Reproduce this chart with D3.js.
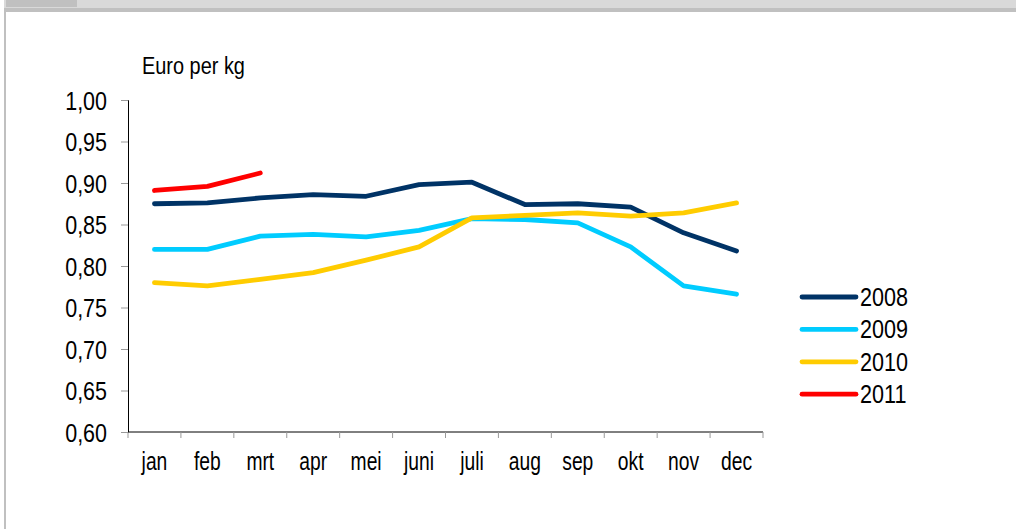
<!DOCTYPE html>
<html>
<head>
<meta charset="utf-8">
<script src="https://cdn.jsdelivr.net/npm/d3@7"></script>
<style>
  body { margin: 0; background: #fff; }
  text { font-family: "Liberation Sans", Arial, sans-serif; fill: #000; }
</style>
</head>
<body>
<script>
// chart data
var months = ["jan", "feb", "mrt", "apr", "mei", "juni", "juli", "aug", "sep", "okt", "nov", "dec"];
var years = ["2008", "2009", "2010", "2011"];
var colors = ["#003366", "#00ccff", "#ffcc00", "#ff0000"];
var values2008 = [0.875, 0.876, 0.882, 0.886, 0.884, 0.898, 0.901, 0.874, 0.875, 0.871, 0.840, 0.818];
var values2009 = [0.820, 0.820, 0.836, 0.838, 0.835, 0.843, 0.857, 0.856, 0.852, 0.823, 0.776, 0.766];
var values2010 = [0.780, 0.776, 0.784, 0.792, 0.807, 0.823, 0.858, 0.861, 0.864, 0.860, 0.864, 0.876];
var values2011 = [0.891, 0.896, 0.912];
var yTicks = [0.60, 0.65, 0.70, 0.75, 0.80, 0.85, 0.90, 0.95, 1.00];

var series = [values2008, values2009, values2010, values2011];

var width = 1016, height = 529;
var margin = {top: 100, left: 128, right: 253, bottom: 97};

var svg = d3.select("body").append("svg")
    .attr("width", width)
    .attr("height", height);

// narrow text: the original font is condensed, so squeeze horizontally
function narrow(sel, sx) {
    sel.each(function() {
        var t = d3.select(this);
        var tx = +t.attr("x") || 0, ty = +t.attr("y") || 0;
        t.attr("x", null).attr("y", null)
         .attr("transform", "translate(" + tx + "," + ty + ") scale(" + sx + ",1)");
    });
}

// window frame bits
svg.append("rect").attr("x", 4).attr("y", 0).attr("width", 1012).attr("height", 8).attr("fill", "#d9d9d9");
svg.append("rect").attr("x", 6).attr("y", 0).attr("width", 71).attr("height", 7).attr("fill", "#c0c0c0");
svg.append("rect").attr("x", 4).attr("y", 8).attr("width", 1012).attr("height", 4).attr("fill", "#c0c0c0");
svg.append("rect").attr("x", 4).attr("y", 8).attr("width", 2).attr("height", 521).attr("fill", "#c0c0c0");

var x = d3.scaleBand()
    .domain(months)
    .range([margin.left, width - margin.right])
    .padding(0);

var y = d3.scaleLinear()
    .domain([0.60, 1.00])
    .range([height - margin.bottom, margin.top]);

// y axis
var yAxis = d3.axisLeft(y)
    .tickValues(yTicks)
    .tickSize(7)
    .tickPadding(14)
    .tickFormat(function(d) { return d3.format(".2f")(d).replace(".", ","); });

var gy = svg.append("g")
    .attr("transform", "translate(" + margin.left + ",0)")
    .call(yAxis);
gy.select(".domain").attr("stroke", "#000");
gy.selectAll(".tick line").attr("stroke", "#999");
gy.selectAll(".tick text")
    .style("font-size", "25px")
    .attr("dy", "0.36em")
    .call(narrow, 0.86);

// x axis
var x0 = y(0.60);
svg.append("line")
    .attr("x1", margin.left).attr("x2", width - margin.right)
    .attr("y1", x0).attr("y2", x0)
    .attr("stroke", "#000");

var bounds = d3.range(months.length + 1);
svg.selectAll(".xtick")
    .data(bounds)
    .enter().append("line")
    .attr("class", "xtick")
    .attr("x1", function(i) { return margin.left + i * x.bandwidth(); })
    .attr("x2", function(i) { return margin.left + i * x.bandwidth(); })
    .attr("y1", x0).attr("y2", x0 + 6)
    .attr("stroke", "#999");

svg.selectAll(".xlabel")
    .data(months)
    .enter().append("text")
    .attr("class", "xlabel")
    .attr("x", function(d) { return x(d) + x.bandwidth() / 2; })
    .attr("y", 470)
    .attr("text-anchor", "middle")
    .style("font-size", "25px")
    .text(function(d) { return d; })
    .call(narrow, 0.77);

svg.append("text")
    .attr("x", 142)
    .attr("y", 74)
    .style("font-size", "24px")
    .text("Euro per kg")
    .call(narrow, 0.83);

// lines
var line = d3.line()
    .x(function(d, i) { return x(months[i]) + x.bandwidth() / 2; })
    .y(function(d) { return y(d); });

svg.selectAll(".series")
    .data(series)
    .enter().append("path")
    .attr("class", "series")
    .attr("d", line)
    .attr("fill", "none")
    .attr("stroke", function(d, i) { return colors[i]; })
    .attr("stroke-width", 4.8)
    .attr("stroke-linecap", "round")
    .attr("stroke-linejoin", "round");

// legend
var legend = svg.selectAll(".legend")
    .data(years)
    .enter().append("g")
    .attr("class", "legend")
    .attr("transform", function(d, i) { return "translate(802," + (297 + i * 32.4) + ")"; });

legend.append("line")
    .attr("x1", 0).attr("x2", 54)
    .attr("stroke", function(d, i) { return colors[i]; })
    .attr("stroke-width", 4.8)
    .attr("stroke-linecap", "round");

legend.append("text")
    .attr("x", 58)
    .attr("y", 9)
    .style("font-size", "26px")
    .text(function(d) { return d; })
    .call(narrow, 0.83);
</script>
</body>
</html>
